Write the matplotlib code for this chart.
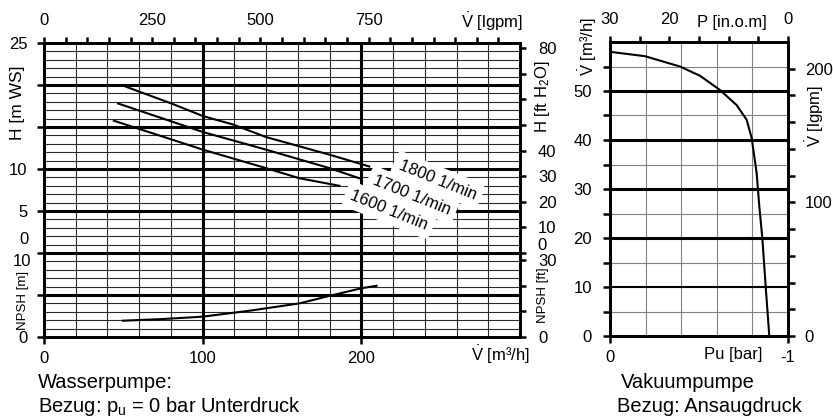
import numpy as np
import matplotlib.pyplot as plt

plt.rcParams['font.family'] = ['Liberation Sans', 'DejaVu Sans']
plt.rcParams['mathtext.fontset'] = 'custom'
plt.rcParams['mathtext.rm'] = 'Liberation Sans'
plt.rcParams['mathtext.it'] = 'Liberation Sans:italic'

# Wasserpumpe: head curves, V [m3/h] -> H [m WS]
v_1800 = [51.6, 80.3, 100.2, 119.1, 140, 180, 205]
h_1800 = [19.8, 17.8, 16.3, 15.3, 13.8, 11.7, 10.3]
v_1700 = [46.7, 100.2, 140, 180, 198.7]
h_1700 = [17.8, 14.4, 12.3, 10.1, 8.9]
v_1600 = [44, 100.2, 140, 161, 186.2]
h_1600 = [15.75, 12.3, 10.1, 8.9, 8.0]
rpm_labels = ['1800 1/min', '1700 1/min', '1600 1/min']

# NPSH curve, V [m3/h] -> NPSH [m]
v_npsh = [49.7, 75, 100, 129.6, 161, 180, 200, 209.6]
npsh = [1.94, 2.14, 2.42, 3.13, 4.0, 4.9, 5.8, 6.1]

# Vakuumpumpe: Pu [bar] -> V [m3/h]
pu = [0, -0.197, -0.393, -0.506, -0.618, -0.712, -0.768, -0.796, -0.824,
      -0.839, -0.856, -0.875, -0.895]
v_vac = [58.0, 57.1, 55.0, 53.1, 50.2, 47.1, 44.1, 40.4, 33.2, 26.4, 19.9, 9.9, 0]

M3H_TO_LGPM = 3.6662
M_TO_FT = 3.2808

W, H = 833, 417
fig = plt.figure(figsize=(W / 100, H / 100), dpi=100)


def fx(x):
    return x / W


def fy(y):
    return 1 - y / H


FS = 12
SPW = 1.8
VDOT = r'$\dot{\mathrm{V}}$'
thin = dict(color='#2a2a2a', lw=0.8, zorder=1)
thick = dict(color='black', lw=2.2, zorder=2)


def style(ax):
    for s in ax.spines.values():
        s.set_linewidth(SPW)
    ax.tick_params(direction='out', width=SPW, labelsize=FS)


# ---------------- left: Wasserpumpe ----------------
ax = fig.add_axes([fx(44), fy(337), fx(476), 294 / H])
ax.set_xlim(0, 300)
ax.set_ylim(-10, 25)

for yy in range(-9, 25):
    if yy % 5 == 0:
        ax.axhline(yy, **thick)
    else:
        ax.axhline(yy, **thin)
for xx in range(20, 300, 20):
    if xx % 100 == 0:
        ax.axvline(xx, **thick)
    else:
        ax.axvline(xx, **thin)

for v, h in [(v_1800, h_1800), (v_1700, h_1700), (v_1600, h_1600)]:
    ax.plot(v, h, color='black', lw=1.5, zorder=4)
ax.plot(v_npsh, np.array(npsh) - 10, color='black', lw=1.5, zorder=4)

for lab, (xv, yv) in zip(rpm_labels, [(248, 8.7), (232, 6.9), (217.5, 5.1)]):
    ax.text(xv, yv, lab, rotation=-22, ha='center', va='center', fontsize=FS,
            zorder=5, rotation_mode='anchor',
            bbox=dict(boxstyle='round,pad=0.35', fc='white', ec='none'))

style(ax)
ax.set_yticks(range(-10, 26, 5))
ax.set_yticklabels(['0', '', '', '5', '10', '', '', '25'])
ax.tick_params(axis='y', length=5, pad=7)
ax.set_xticks([0, 100, 200])
ax.set_xticklabels(['0', '100', '200'])
ax.tick_params(axis='x', length=5, pad=5)

axt = ax.twiny()
axt.set_xlim(0, 300)
lg = np.arange(0, 1051, 50)
axt.set_xticks(lg / M3H_TO_LGPM)
axt.set_xticklabels([str(t) if t in (0, 250, 500, 750) else '' for t in lg])
style(axt)
axt.tick_params(axis='x', length=4, pad=7)

axr = ax.twinx()
axr.set_ylim(-10, 25)
ft_up = np.arange(0, 81, 10)
ft_np = np.arange(0, 31, 10)
axr.set_yticks(list(ft_up / M_TO_FT) + list(ft_np / M_TO_FT - 10))
up_lab = {80: '80', 40: '40', 30: '30', 20: '20', 10: '10'}
axr.set_yticklabels([up_lab.get(t, '') for t in ft_up] +
                    ['0', '', '', '30'])
style(axr)
axr.tick_params(axis='y', length=4, pad=9)

fig.text(fx(18), fy(103), 'H [m WS]', rotation=90, ha='center', va='center', fontsize=12.5)
fig.text(fx(29), fy(240), '0', ha='right', va='center', fontsize=FS)
fig.text(fx(31), fy(262), '10', ha='right', va='center', fontsize=FS)
fig.text(fx(23), fy(300), 'NPSH [m]', rotation=90, ha='center', va='center', fontsize=9.5)
fig.text(fx(500), fy(355), VDOT + ' [m³/h]', ha='center', va='center', fontsize=FS)
fig.text(fx(492), fy(22), VDOT + ' [lgpm]', ha='center', va='center', fontsize=FS)
fig.text(fx(542), fy(97), 'H [ft H$_2$O]', rotation=90, ha='center', va='center', fontsize=FS)
fig.text(fx(537), fy(245), '0', ha='left', va='center', fontsize=FS)
fig.text(fx(543), fy(295), 'NPSH [ft]', rotation=90, ha='center', va='center', fontsize=9.5)

# ---------------- right: Vakuumpumpe ----------------
bx = fig.add_axes([fx(610), fy(336), fx(178), 294 / H])
bx.set_xlim(0, -1)
bx.set_ylim(0, 60)
for yy in range(5, 60, 5):
    if yy in (20, 30, 40, 50):
        bx.axhline(yy, **thick)
    elif yy == 10:
        bx.axhline(yy, color='black', lw=1.5, zorder=2)
    else:
        bx.axhline(yy, color='#808080', lw=0.8, zorder=1)
for xx in (-0.2, -0.4, -0.6, -0.8):
    bx.axvline(xx, color='#808080', lw=0.8, zorder=1)
bx.plot(pu, v_vac, color='black', lw=1.5, zorder=4)

style(bx)
bx.set_yticks(range(0, 60, 5))
bx.set_yticklabels([str(t) if t % 10 == 0 else '' for t in range(0, 60, 5)])
bx.tick_params(axis='y', length=5, pad=8)
bx.set_xticks([0, -1])
bx.set_xticklabels(['0', '-1'])
bx.tick_params(axis='x', length=5, pad=5)

bxt = bx.twiny()
bxt.set_xlim(0, -1)
pin = np.arange(30, -1, -5)
bxt.set_xticks(pin / 30 - 1)
bxt.set_xticklabels([str(t) if t in (30, 20, 0) else '' for t in pin])
style(bxt)
bxt.tick_params(axis='x', length=4, pad=7)

bxr = bx.twinx()
bxr.set_ylim(0, 60)
lgv = np.arange(0, 201, 20)
bxr.set_yticks(lgv / M3H_TO_LGPM)
bxr.set_yticklabels([str(t) if t in (0, 100, 200) else '' for t in lgv])
style(bxr)
bxr.tick_params(axis='y', length=5, pad=7)

fig.text(fx(588), fy(47), VDOT + ' [m³/h]', rotation=90, ha='center', va='center', fontsize=FS)
fig.text(fx(732), fy(22), 'P [in.o.m]', ha='center', va='center', fontsize=FS)
fig.text(fx(815), fy(116), VDOT + ' [lgpm]', rotation=90, ha='center', va='center', fontsize=FS)
fig.text(fx(733), fy(355), 'Pu [bar]', ha='center', va='center', fontsize=FS)

# ---------------- footer ----------------
fig.text(fx(38), fy(383), 'Wasserpumpe:', ha='left', va='center', fontsize=14.5)
fig.text(fx(38), fy(407), 'Bezug: p$_\\mathrm{u}$ = 0 bar Unterdruck', ha='left', va='center', fontsize=14.5)
fig.text(fx(621), fy(383), 'Vakuumpumpe', ha='left', va='center', fontsize=14.5)
fig.text(fx(617), fy(407), 'Bezug: Ansaugdruck', ha='left', va='center', fontsize=14.5)

fig.savefig('out.png', dpi=100)
